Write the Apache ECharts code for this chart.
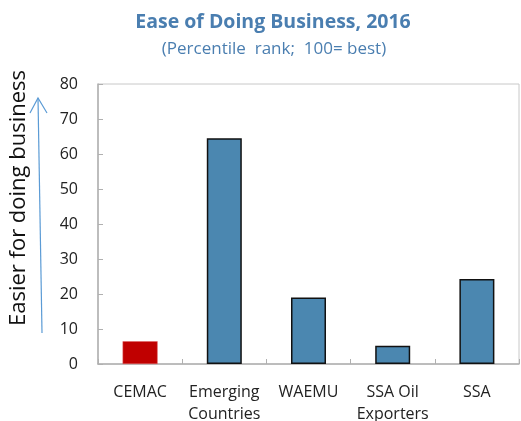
<!DOCTYPE html>
<html>
<head>
<meta charset="utf-8">
<script src="https://cdn.jsdelivr.net/npm/echarts@6/dist/echarts.min.js"></script>
<style>
  html, body { margin: 0; padding: 0; background: #fff; }
  #main { width: 521px; height: 421px; }
</style>
</head>
<body>
<div id="main"></div>
<script>
var categories = ['CEMAC', 'Emerging\nCountries', 'WAEMU', 'SSA Oil\nExporters', 'SSA'];
var values = [6.5, 64.5, 19, 5.2, 24.3];
var barColors = ['#c00000', '#4b87b0', '#4b87b0', '#4b87b0', '#4b87b0'];
var yTicks = { min: 0, max: 80, interval: 10 };

var font = '"Open Sans", "Noto Sans", sans-serif';
var myChart = echarts.init(document.getElementById('main'));

var barData = values.map(function (v, i) {
    var red = i === 0;
    return {
        value: v,
        itemStyle: {
            color: barColors[i],
            borderColor: red ? '#e06060' : '#111',
            borderWidth: red ? 0.5 : 1.5
        }
    };
});

var option = {
    backgroundColor: '#fff',
    animation: false,
    textStyle: { fontFamily: font },
    title: [{
        text: 'Ease of Doing Business, 2016',
        left: 268, top: 7, textAlign: 'center',
        textStyle: { color: '#4a7eb0', fontSize: 19.5, fontWeight: 'bold', fontFamily: font }
    }, {
        text: '(Percentile  rank;  100= best)',
        left: 269, top: 36, textAlign: 'center',
        textStyle: { color: '#4a7eb0', fontSize: 17, fontWeight: 'normal', fontFamily: font }
    }],
    grid: {
        left: 98, right: 2, top: 84, bottom: 57,
        outerBoundsMode: 'none',
        containLabel: false,
        show: true, borderColor: '#c8c8c8', borderWidth: 1
    },
    xAxis: {
        type: 'category',
        data: categories,
        axisLine: { lineStyle: { color: '#b0b0b0', width: 1.5 } },
        axisTick: { show: true, inside: true, length: 5, lineStyle: { color: '#b0b0b0' } },
        axisLabel: { color: '#222', fontSize: 16, lineHeight: 22, margin: 17, interval: 0 }
    },
    yAxis: {
        type: 'value',
        min: yTicks.min, max: yTicks.max, interval: yTicks.interval,
        axisLine: { show: true, lineStyle: { color: '#b0b0b0', width: 1.5 } },
        axisTick: { show: true, inside: true, length: 5, lineStyle: { color: '#b0b0b0' } },
        axisLabel: { color: '#222', fontSize: 16, margin: 20 },
        splitLine: { show: false }
    },
    graphic: [
        {   // arrow shaft
            type: 'polyline',
            shape: { points: [[42, 333], [38, 98]] },
            style: { stroke: '#5b9bd5', lineWidth: 1.2, fill: null }
        },
        {   // arrow head
            type: 'polyline',
            shape: { points: [[30, 113], [38, 98], [47, 113]] },
            style: { stroke: '#5b9bd5', lineWidth: 1.2, fill: null }
        },
        {
            type: 'text',
            x: 19, y: 198,
            rotation: Math.PI / 2,
            style: {
                text: 'Easier for doing business',
                fill: '#111',
                fontSize: 22,
                fontFamily: font,
                align: 'center',
                verticalAlign: 'middle'
            }
        }
    ],
    series: [{
        type: 'bar',
        data: barData,
        barWidth: 35
    }]
};

myChart.setOption(option);
</script>
</body>
</html>
